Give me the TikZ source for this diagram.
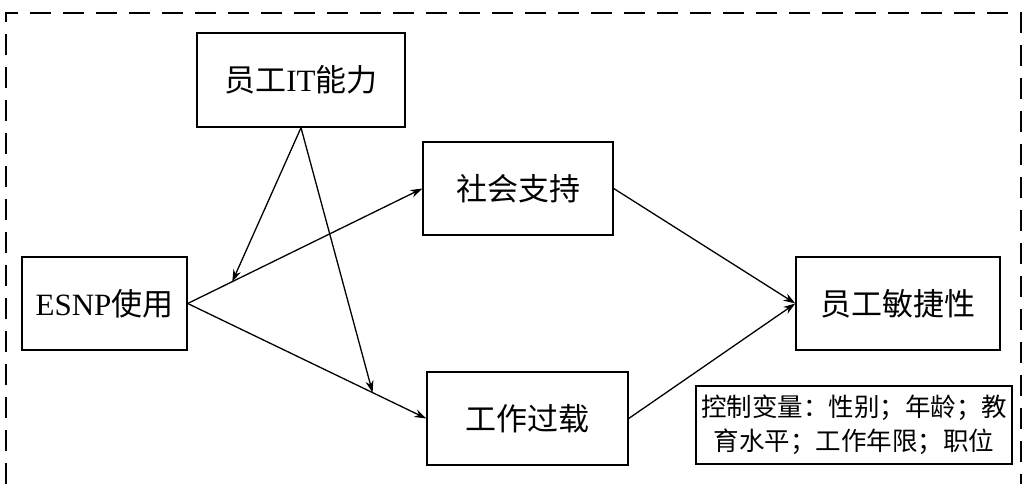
\documentclass[tikz,border=0pt]{standalone}
\usepackage{fontspec}
\setmainfont{Liberation Serif}
\newfontfamily\cjk{Noto Sans CJK SC}
\usetikzlibrary{arrows.meta}
\begin{document}
\begin{tikzpicture}[x=1pt,y=-1pt,
  boxnode/.style={draw, line width=1.4pt, inner sep=0pt, font=\fontsize{31}{34}\selectfont},
  arr/.style={line width=1.3pt, -{Stealth[length=12pt,width=8pt]}},
  plain/.style={line width=1pt}]
\useasboundingbox (0,0) rectangle (1026,484);
\draw[line width=1.5pt, dash pattern=on 21pt off 12pt] (6,484) -- (6,13) -- (1021,13) -- (1021,484);
\node[boxnode, minimum width=208pt, minimum height=94pt] (it) at (301,80) {{\cjk 员工}IT{\cjk 能力}};
\node[boxnode, minimum width=165pt, minimum height=93pt] (esnp) at (104.5,303.5) {ESNP{\cjk 使用}};
\node[boxnode, minimum width=190pt, minimum height=93pt] (ss) at (518,188.5) {\cjk 社会支持};
\node[boxnode, minimum width=201pt, minimum height=93pt] (wo) at (527.5,418.5) {\cjk 工作过载};
\node[boxnode, minimum width=204pt, minimum height=93pt] (ag) at (898,303.5) {\cjk 员工敏捷性};
\node[draw, line width=1.3pt, minimum width=316pt, minimum height=78pt, inner sep=0pt,
  align=center, font=\fontsize{25.5}{34}\selectfont\cjk] (cv) at (854,425)
  {控制变量：性别；年龄；教\\育水平；工作年限；职位};
\draw[arr] (esnp.east) -- coordinate[pos=0.19] (m1) (ss.west);
\draw[arr] (esnp.east) -- coordinate[pos=0.775] (m2) (wo.west);
\draw[arr] (it.south) -- (m1);
\draw[arr] (it.south) -- (m2);
\draw[arr] (ss.east) -- (ag.west);
\draw[arr] (wo.east) -- (ag.west);
\end{tikzpicture}
\end{document}
